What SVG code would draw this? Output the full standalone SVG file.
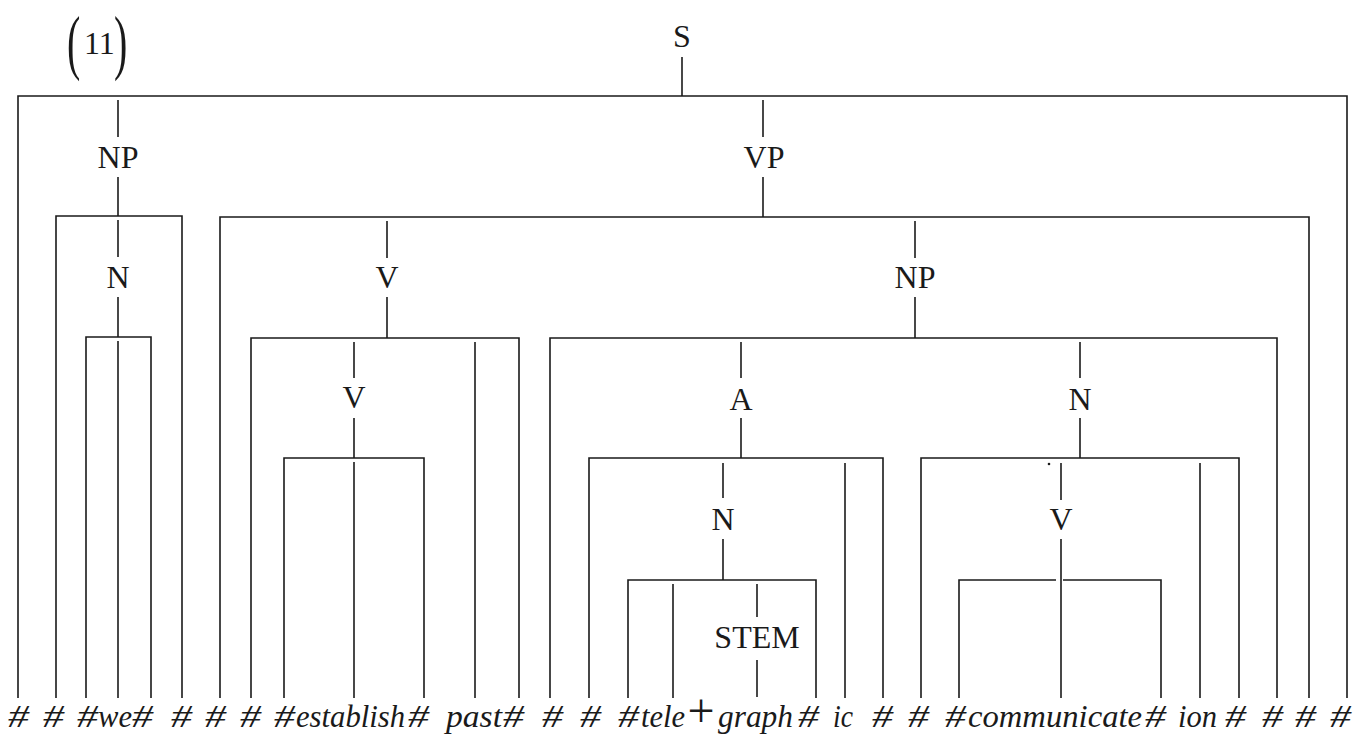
<svg xmlns="http://www.w3.org/2000/svg" width="1366" height="738" viewBox="0 0 1366 738">
<style>
.ln{stroke:#1a1a1a;stroke-width:1.6;fill:none;stroke-linecap:butt}
.lbl{font-family:"Liberation Serif","Times New Roman",serif;font-size:32px;fill:#1a1a1a;text-anchor:middle}
.w{font-family:"Liberation Serif","Times New Roman",serif;font-style:italic;font-size:31px;fill:#1a1a1a}
.num{font-family:"Liberation Serif","Times New Roman",serif;font-size:32px;fill:#1a1a1a}
.par{font-family:"Liberation Serif","Times New Roman",serif;font-size:40px;fill:#1a1a1a}
</style>
<rect width="1366" height="738" fill="#ffffff"/>
<g id="example-number">
<text class="par" x="67" y="36.7" transform="scale(1,1.8)">(</text>
<text class="num" x="84" y="54">11</text>
<text class="par" x="114" y="36.7" transform="scale(1,1.8)">)</text>
</g>
<g id="connectors">
<line class="ln" x1="682" y1="57" x2="682" y2="96"/>
<polyline class="ln" points="18,698 18,96 1347,96 1347,698"/>
<line class="ln" x1="118" y1="100" x2="118" y2="137"/>
<line class="ln" x1="118" y1="177" x2="118" y2="216"/>
<polyline class="ln" points="56,698 56,216 182,216 182,698"/>
<line class="ln" x1="118" y1="220" x2="118" y2="257"/>
<line class="ln" x1="118" y1="297" x2="118" y2="337"/>
<polyline class="ln" points="86,698 86,337 151,337 151,698"/>
<line class="ln" x1="118" y1="341" x2="118" y2="698"/>
<line class="ln" x1="763" y1="100" x2="763" y2="137"/>
<line class="ln" x1="763" y1="177" x2="763" y2="217"/>
<polyline class="ln" points="220,698 220,217 1309,217 1309,698"/>
<line class="ln" x1="387" y1="221" x2="387" y2="258"/>
<line class="ln" x1="387" y1="297" x2="387" y2="338"/>
<polyline class="ln" points="251,698 251,338 519,338 519,698"/>
<line class="ln" x1="475" y1="342" x2="475" y2="698"/>
<line class="ln" x1="354" y1="342" x2="354" y2="378"/>
<line class="ln" x1="354" y1="418" x2="354" y2="458"/>
<polyline class="ln" points="284,698 284,458 424,458 424,698"/>
<line class="ln" x1="354" y1="462" x2="354" y2="698"/>
<line class="ln" x1="915" y1="221" x2="915" y2="258"/>
<line class="ln" x1="915" y1="297" x2="915" y2="338"/>
<polyline class="ln" points="550,698 550,338 1277,338 1277,698"/>
<line class="ln" x1="741" y1="342" x2="741" y2="378"/>
<line class="ln" x1="741" y1="418" x2="741" y2="458"/>
<polyline class="ln" points="589,698 589,458 883,458 883,698"/>
<line class="ln" x1="845" y1="463" x2="845" y2="698"/>
<line class="ln" x1="723" y1="463" x2="723" y2="498"/>
<line class="ln" x1="723" y1="539" x2="723" y2="580"/>
<polyline class="ln" points="628,698 628,580 816,580 816,698"/>
<line class="ln" x1="673" y1="584" x2="673" y2="698"/>
<line class="ln" x1="757" y1="584" x2="757" y2="617"/>
<line class="ln" x1="757" y1="660" x2="757" y2="697"/>
<line class="ln" x1="1080" y1="342" x2="1080" y2="378"/>
<line class="ln" x1="1080" y1="418" x2="1080" y2="458"/>
<polyline class="ln" points="921,698 921,458 1239,458 1239,698"/>
<line class="ln" x1="1200" y1="463" x2="1200" y2="698"/>
<line class="ln" x1="1061" y1="463" x2="1061" y2="500"/>
<line class="ln" x1="1061" y1="539" x2="1061" y2="698"/>
<polyline class="ln" points="959,698 959,580 1056,580"/>
<polyline class="ln" points="1063,580 1161,580 1161,698"/>
<circle cx="1049" cy="464" r="1.3" fill="#1a1a1a"/>
</g>
<g id="node-S"><text class="lbl" x="682" y="47">S</text></g>
<g id="node-NP-subj"><text class="lbl" x="118" y="168">NP</text></g>
<g id="node-VP"><text class="lbl" x="764" y="168">VP</text></g>
<g id="node-N-we"><text class="lbl" x="118" y="288">N</text></g>
<g id="node-V-outer"><text class="lbl" x="387" y="288">V</text></g>
<g id="node-NP-obj"><text class="lbl" x="915" y="288">NP</text></g>
<g id="node-V-inner"><text class="lbl" x="354" y="408">V</text></g>
<g id="node-A"><text class="lbl" x="741" y="410">A</text></g>
<g id="node-N-comm"><text class="lbl" x="1080" y="410">N</text></g>
<g id="node-N-tele"><text class="lbl" x="723" y="530">N</text></g>
<g id="node-V-comm"><text class="lbl" x="1061" y="530">V</text></g>
<g id="node-STEM"><text class="lbl" x="757" y="648">STEM</text></g>
<g id="terminal-string">
<text class="w" x="8" y="727" textLength="21" lengthAdjust="spacingAndGlyphs">#</text>
<text class="w" x="43" y="727" textLength="21" lengthAdjust="spacingAndGlyphs">#</text>
<text class="w" x="77" y="727" textLength="21" lengthAdjust="spacingAndGlyphs">#</text>
<text class="w" x="98" y="727" textLength="34" lengthAdjust="spacingAndGlyphs">we</text>
<text class="w" x="132" y="727" textLength="21" lengthAdjust="spacingAndGlyphs">#</text>
<text class="w" x="171" y="727" textLength="21" lengthAdjust="spacingAndGlyphs">#</text>
<text class="w" x="205" y="727" textLength="21" lengthAdjust="spacingAndGlyphs">#</text>
<text class="w" x="240" y="727" textLength="21" lengthAdjust="spacingAndGlyphs">#</text>
<text class="w" x="274" y="727" textLength="21" lengthAdjust="spacingAndGlyphs">#</text>
<text class="w" x="296" y="727" textLength="109" lengthAdjust="spacingAndGlyphs">establish</text>
<text class="w" x="408" y="727" textLength="21" lengthAdjust="spacingAndGlyphs">#</text>
<text class="w" x="446" y="727" textLength="56" lengthAdjust="spacingAndGlyphs">past</text>
<text class="w" x="503" y="727" textLength="21" lengthAdjust="spacingAndGlyphs">#</text>
<text class="w" x="542" y="727" textLength="21" lengthAdjust="spacingAndGlyphs">#</text>
<text class="w" x="580" y="727" textLength="21" lengthAdjust="spacingAndGlyphs">#</text>
<text class="w" x="618" y="727" textLength="21" lengthAdjust="spacingAndGlyphs">#</text>
<text class="w" x="641" y="727" textLength="44" lengthAdjust="spacingAndGlyphs">tele</text>
<text x="701" y="727" style="font-family:'Liberation Serif','Times New Roman',serif;font-size:48px;fill:#1a1a1a;text-anchor:middle">+</text>
<text class="w" x="718" y="727" textLength="75" lengthAdjust="spacingAndGlyphs">graph</text>
<text class="w" x="798" y="727" textLength="21" lengthAdjust="spacingAndGlyphs">#</text>
<text class="w" x="833" y="727" textLength="20" lengthAdjust="spacingAndGlyphs">ic</text>
<text class="w" x="872" y="727" textLength="21" lengthAdjust="spacingAndGlyphs">#</text>
<text class="w" x="908" y="727" textLength="21" lengthAdjust="spacingAndGlyphs">#</text>
<text class="w" x="945" y="727" textLength="21" lengthAdjust="spacingAndGlyphs">#</text>
<text class="w" x="968" y="727" textLength="174" lengthAdjust="spacingAndGlyphs">communicate</text>
<text class="w" x="1145" y="727" textLength="21" lengthAdjust="spacingAndGlyphs">#</text>
<text class="w" x="1178" y="727" textLength="39" lengthAdjust="spacingAndGlyphs">ion</text>
<text class="w" x="1225" y="727" textLength="21" lengthAdjust="spacingAndGlyphs">#</text>
<text class="w" x="1262" y="727" textLength="21" lengthAdjust="spacingAndGlyphs">#</text>
<text class="w" x="1295" y="727" textLength="21" lengthAdjust="spacingAndGlyphs">#</text>
<text class="w" x="1330" y="727" textLength="21" lengthAdjust="spacingAndGlyphs">#</text>
</g>
</svg>
